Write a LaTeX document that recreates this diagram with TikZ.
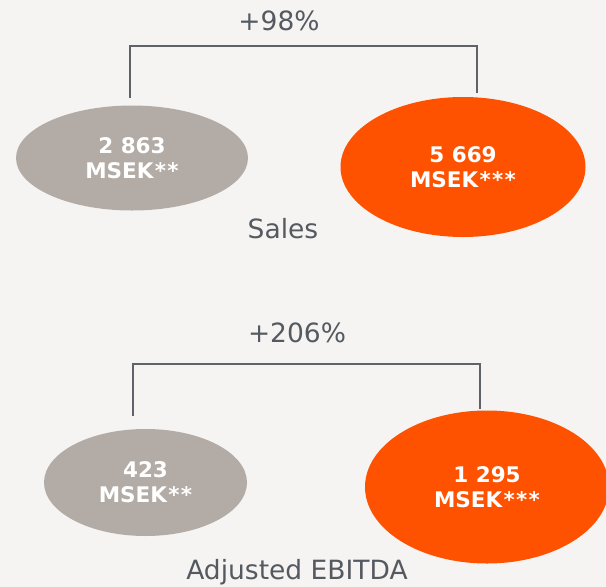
\documentclass[tikz,border=0pt]{standalone}
\usepackage{fontspec}
\setmainfont{DejaVu Sans}
\usetikzlibrary{shapes.geometric}
\definecolor{bgc}{HTML}{F5F4F2}
\definecolor{grayell}{HTML}{B3ACA6}
\definecolor{orangeell}{HTML}{FF5200}
\definecolor{brk}{HTML}{5F6369}
\definecolor{txt}{HTML}{555A60}
\tikzset{
  ell/.style={ellipse, inner sep=0pt, text=white, align=center,
    font=\fontsize{21.5}{25}\selectfont\bfseries},
  grayblob/.style={ell, fill=grayell},
  orangeblob/.style={ell, fill=orangeell},
  bracket/.style={draw=brk, line width=2.8pt},
  lbl/.style={text=txt, font=\fontsize{26.5}{30}\selectfont, inner sep=0pt}
}
\newcommand{\stars}[1]{\foreach \i in {1,...,#1}{\kern0.06em*}}
\begin{document}
\begin{tikzpicture}[x=1pt,y=-1pt]
\useasboundingbox (0,0) rectangle (606,587);
\fill[bgc] (0,0) rectangle (606,587);
% Sales
\node[grayblob, minimum width=232pt, minimum height=105pt] (g1) at (132,158) {2 863\\MSEK\stars{2}};
\node[orangeblob, minimum width=245pt, minimum height=140pt] (o1) at (463,167) {5 669\\MSEK\stars{3}};
\coordinate (b1l) at (130,98);
\coordinate (b1r) at (477,93);
\draw[bracket] (b1l) -- (b1l |- 0,46) -| (b1r);
\node[lbl] (p1) at (279,21) {+98\%};
\node[lbl] (s1) at (283,229) {Sales};
% EBITDA
\node[grayblob, minimum width=203pt, minimum height=107pt] (g2) at (145.5,482.5) {423\\MSEK\stars{2}};
\node[orangeblob, minimum width=244pt, minimum height=153pt] (o2) at (487,487) {1 295\\MSEK\stars{3}};
\coordinate (b2l) at (133,416);
\coordinate (b2r) at (480,409);
\draw[bracket] (b2l) -- (b2l |- 0,364) -| (b2r);
\node[lbl] (p2) at (297,333) {+206\%};
\node[lbl] (s2) at (297,572) {Adjusted EBITDA};
\end{tikzpicture}
\end{document}
